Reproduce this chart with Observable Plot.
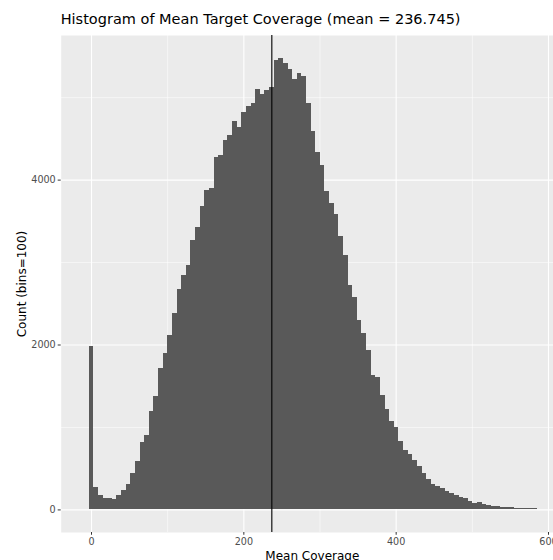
<!DOCTYPE html>
<html><head><meta charset="utf-8">
<script src="https://cdn.jsdelivr.net/npm/d3@7"></script>
<script src="https://cdn.jsdelivr.net/npm/@observablehq/plot@0.6"></script>
<style>
html,body{margin:0;padding:0;overflow:hidden;background:#fff;}
#wrap{position:relative;width:563px;height:560px;font-family:"DejaVu Sans";}
#title{position:absolute;left:60.7px;top:11px;font-size:14.5px;line-height:normal;color:#000;white-space:nowrap;}
#chart{position:absolute;left:0;top:35px;width:563px;}
#chart svg{max-width:none !important;}
</style></head><body>
<div id="wrap"><div id="title"></div><div id="chart"></div></div>
<script>
const titleText = "Histogram of Mean Target Coverage (mean = 236.745)";
const xLabel = "Mean Coverage";
const yLabel = "Count (bins=100)";
const meanValue = 236.745;
const binWidth = 6.07;
const firstBinStart = -3.03;
const counts = [
  1985, 266, 173, 141, 135, 125, 173, 234, 306, 444,
  593, 815, 900, 1191, 1377, 1716, 1902, 2111, 2386, 2669,
  2843, 2968, 3262, 3428, 3678, 3876, 3900, 4272, 4300, 4482,
  4546, 4707, 4643, 4825, 4894, 4934, 5100, 5039, 5087, 5128,
  5455, 5471, 5415, 5346, 5221, 5293, 5257, 4934, 4587, 4336,
  4175, 3864, 3720, 3581, 3311, 3089, 2717, 2576, 2301, 2144,
  1930, 1635, 1603, 1385, 1223, 1074, 1001, 830, 722, 670,
  605, 525, 436, 363, 306, 282, 254, 226, 193, 173,
  153, 133, 105, 80, 92, 64, 56, 44, 40, 32,
  26, 24, 18, 14, 13, 12, 12
];
const xTicks = [0, 200, 400, 600];
const xTickLabels = ["0", "200", "400", "600"];
const xMinorTicks = [100, 300, 500];
const yTicks = [0, 2000, 4000];
const yTickLabels = ["0", "2000", "4000"];
const yMinorTicks = [1000, 3000, 5000];

document.getElementById("title").textContent = titleText;

const bins = counts.map((c, i) => ({
  x1: firstBinStart + i * binWidth,
  x2: firstBinStart + (i + 1) * binWidth,
  count: c
}));

const plot = Plot.plot({
  width: 563,
  height: 525,
  marginLeft: 60.7,
  marginRight: 0,
  marginTop: 0,
  marginBottom: 28,
  style: {fontFamily: "DejaVu Sans", background: "transparent", overflow: "visible", maxWidth: "none"},
  x: {domain: [-39.8, 619.7]},
  y: {domain: [-274, 5754]},
  marks: [
    Plot.frame({fill: "#EBEBEB", stroke: "none"}),
    Plot.ruleX(xMinorTicks, {stroke: "white", strokeWidth: 0.55}),
    Plot.ruleY(yMinorTicks, {stroke: "white", strokeWidth: 0.55}),
    Plot.ruleX(xTicks, {stroke: "white", strokeWidth: 1.1}),
    Plot.ruleY(yTicks, {stroke: "white", strokeWidth: 1.1}),
    Plot.rectY(bins, {x1: "x1", x2: "x2", y: "count", fill: "#595959", shapeRendering: "crispEdges"}),
    Plot.ruleX([meanValue], {stroke: "black", strokeWidth: 1.1}),
    Plot.axisX({ticks: xTicks, tickFormat: d => xTickLabels[xTicks.indexOf(d)], tickSize: 2.75, tickPadding: 3.4, fontSize: 9.6, stroke: "#333333", fill: "#4D4D4D", label: null}),
    Plot.axisY({ticks: yTicks, tickFormat: d => yTickLabels[yTicks.indexOf(d)], tickSize: 3, tickPadding: 2.5, fontSize: 9.6, stroke: "#333333", fill: "#4D4D4D", label: null}),
    Plot.text([xLabel], {frameAnchor: "bottom", dy: 23.5, fontSize: 12, fill: "black", lineAnchor: "middle"}),
    Plot.text([yLabel], {frameAnchor: "left", dx: -39.4, rotate: -90, fontSize: 12, fill: "black", textAnchor: "middle", lineAnchor: "middle"})
  ]
});
document.getElementById("chart").appendChild(plot);
</script>
</body></html>
